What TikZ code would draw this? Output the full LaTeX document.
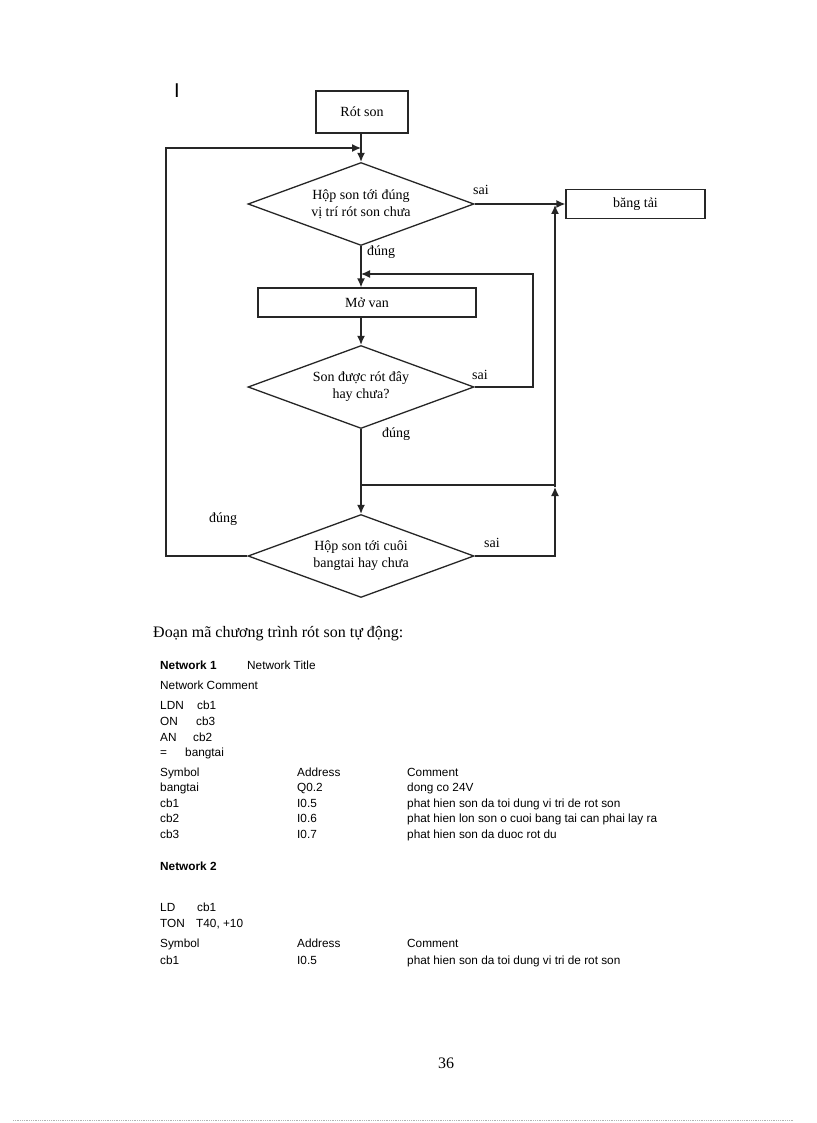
\documentclass[tikz,border=0pt]{standalone}
\usepackage{fontspec}
\setmainfont{Liberation Serif}
\newfontfamily\arialf{Liberation Sans}
\usetikzlibrary{shapes.geometric,arrows.meta}
\tikzset{
  flowtxt/.style={font=\fontsize{14}{17}\selectfont},
  procbox/.style={draw=black!85, line width=1.3pt, inner sep=0pt, flowtxt},
  decbox/.style={draw=black!85, line width=1.3pt, diamond, aspect=2.72, inner sep=0pt,
    minimum width=226pt, minimum height=83pt, align=center, flowtxt},
  conn/.style={draw=black!85, line width=1.3pt},
  arr/.style={conn, -{Latex[length=9pt,width=8pt]}},
  lbl/.style={flowtxt, inner sep=0pt},
  codetxt/.style={font=\arialf\fontsize{11.8}{13}\selectfont, anchor=base west, inner sep=0pt},
  codebold/.style={codetxt, font=\arialf\bfseries\fontsize{11.8}{13}\selectfont},
}
\begin{document}
\begin{tikzpicture}[x=1pt,y=-1pt]
\useasboundingbox (0,0) rectangle (816,1123);
\fill[white] (0,0) rectangle (816,1123);

% marker
\node[font=\arialf\fontsize{20}{22}\selectfont, inner sep=0pt] (mark) at (177,91) {I};

% flowchart nodes
\node[procbox, minimum width=92pt, minimum height=42pt] (rot) at (362,112) {Rót son};
\node[decbox] (d1) at (361,204) {Hộp son tới đúng\\vị trí rót son chưa};
\node[procbox, minimum width=139pt, minimum height=29pt] (bang) at (635.5,204) {băng tải};
\node[procbox, minimum width=218pt, minimum height=29pt] (mo) at (367,302.5) {Mở van};
\node[decbox] (d2) at (361,387) {Son được rót đây\\hay chưa?};
\node[decbox] (d3) at (361,556) {Hộp son tới cuôi\\bangtai hay chưa};

% labels
\node[lbl] (s1) at (481,190) {sai};
\node[lbl] (s2) at (480,375) {sai};
\node[lbl] (s3) at (492,543) {sai};
\node[lbl] (u1) at (381,252) {đúng};
\node[lbl] (u2) at (396,434) {đúng};
\node[lbl] (u3) at (223,519) {đúng};

% helper coordinates
\coordinate (topin) at (361,148);
\coordinate (leftx) at (166,148);
\coordinate (leftb) at (166,556);
\coordinate (loopin) at (361,274);
\coordinate (loopr) at (533,274);
\coordinate (loopb) at (533,387);
\coordinate (junc) at (361,485);
\coordinate (juncr) at (555,485);
\coordinate (rbot) at (555,556);
\coordinate (rmid) at (555,487);
\coordinate (rtop) at (555,205);

% connectors
\draw[arr] (d1.north |- rot.south) -- (d1.north);
\draw[arr] (d3.west) -- (leftb) -- (leftx) -- (topin);
\draw[arr] (d1.east) -- (bang.west);
\draw[arr] (d1.south) -- (d1.south |- mo.north);
\draw[arr] (d2.east) -- (loopb) -- (loopr) -- (loopin);
\draw[arr] (d1.south |- mo.south) -- (d2.north);
\draw[arr] (d2.south) -- (d3.north);
\draw[conn] (junc) -- (juncr);
\draw[arr] (d3.east) -- (rbot) -- (rmid);
\draw[arr] (rmid) -- (rtop);

% body text
\node[anchor=base west, inner sep=0pt, font=\fontsize{16}{18}\selectfont] (head) at (153,637) {Đoạn mã chương trình rót son tự động:};

\node[codebold] (n1) at (160,669) {Network 1};
\node[codetxt] (n1t) at (247,669) {Network Title};
\node[codetxt] (n1c) at (160,689) {Network Comment};
\node[codetxt] (i1a) at (160,709) {LDN};
\node[codetxt] (i1b) at (197,709) {cb1};
\node[codetxt] (i2a) at (160,725) {ON};
\node[codetxt] (i2b) at (196,725) {cb3};
\node[codetxt] (i3a) at (160,741) {AN};
\node[codetxt] (i3b) at (193,741) {cb2};
\node[codetxt] (i4a) at (160,756) {=};
\node[codetxt] (i4b) at (185,756) {bangtai};

\node[codetxt] (h1a) at (160,776) {Symbol};
\node[codetxt] (h1b) at (297,776) {Address};
\node[codetxt] (h1c) at (407,776) {Comment};
\node[codetxt] (r1a) at (160,791) {bangtai};
\node[codetxt] (r1b) at (297,791) {Q0.2};
\node[codetxt] (r1c) at (407,791) {dong co 24V};
\node[codetxt] (r2a) at (160,807) {cb1};
\node[codetxt] (r2b) at (297,807) {I0.5};
\node[codetxt] (r2c) at (407,807) {phat hien son da toi dung vi tri de rot son};
\node[codetxt] (r3a) at (160,822) {cb2};
\node[codetxt] (r3b) at (297,822) {I0.6};
\node[codetxt] (r3c) at (407,822) {phat hien lon son o cuoi bang tai can phai lay ra};
\node[codetxt] (r4a) at (160,838) {cb3};
\node[codetxt] (r4b) at (297,838) {I0.7};
\node[codetxt] (r4c) at (407,838) {phat hien son da duoc rot du};

\node[codebold] (n2) at (160,870) {Network 2};
\node[codetxt] (j1a) at (160,911) {LD};
\node[codetxt] (j1b) at (197,911) {cb1};
\node[codetxt] (j2a) at (160,927) {TON};
\node[codetxt] (j2b) at (196,927) {T40, +10};
\node[codetxt] (h2a) at (160,947) {Symbol};
\node[codetxt] (h2b) at (297,947) {Address};
\node[codetxt] (h2c) at (407,947) {Comment};
\node[codetxt] (s2a) at (160,964) {cb1};
\node[codetxt] (s2b) at (297,964) {I0.5};
\node[codetxt] (s2c) at (407,964) {phat hien son da toi dung vi tri de rot son};

% page number and bottom rule
\node[inner sep=0pt, font=\fontsize{16}{18}\selectfont] (pg) at (446,1063) {36};
\coordinate (bl) at (13,1120);
\coordinate (br) at (793,1120);
\draw[black!30, densely dotted, line width=0.8pt] (bl) -- (br);
\end{tikzpicture}
\end{document}
